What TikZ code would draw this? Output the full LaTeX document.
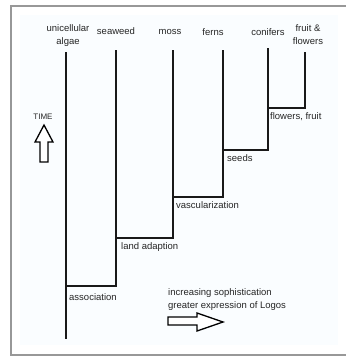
\documentclass[tikz,border=0pt]{standalone}
\usepackage{fontspec}
\setmainfont{Liberation Sans}
\begin{document}
\begin{tikzpicture}[x=1pt,y=-1pt,
  lbl/.style={font=\fontsize{9.5}{13}\selectfont, inner sep=0pt, text=black!85},
  toplbl/.style={lbl, align=center},
  branch/.style={draw=black!90, line width=1.5pt},
  blockarrow/.style={draw=black, line width=1.3pt, fill=white, line join=miter}]
\useasboundingbox (0,0) rectangle (346,357);
\fill[white] (0,0) rectangle (346,357);
\fill[white!98!cyan] (20,15) rectangle (338,345);
% frame
\draw[gray!85!black!70, line width=2pt] (346,6) -- (11,6) -- (11,355) -- (346,355);

% top labels
\node[toplbl] (algae) at (68,36) {unicellular\\algae};
\node[toplbl] (seaweed) at (116,31) {seaweed};
\node[toplbl] (moss) at (170,32) {moss};
\node[toplbl] (ferns) at (213,32) {ferns};
\node[toplbl] (conifers) at (268,32) {conifers};
\node[toplbl] (fruit) at (308,35) {fruit \&\\flowers};

% branch coordinates
\coordinate (a1) at (66,52);   \coordinate (a2) at (66,339);
\coordinate (s1) at (116,50);  \coordinate (s2) at (116,286); \coordinate (s3) at (66,286);
\coordinate (m1) at (173,50);  \coordinate (m2) at (173,238); \coordinate (m3) at (116,238);
\coordinate (f1) at (223,50);  \coordinate (f2) at (223,197); \coordinate (f3) at (173,197);
\coordinate (c1) at (268,48);  \coordinate (c2) at (268,150); \coordinate (c3) at (223,150);
\coordinate (r1) at (305,52);  \coordinate (r2) at (305,108); \coordinate (r3) at (268,108);

\draw[branch] (a1) -- (a2);
\draw[branch] (s1) -- (s2) -- (s3);
\draw[branch] (m1) -- (m2) -- (m3);
\draw[branch] (f1) -- (f2) -- (f3);
\draw[branch] (c1) -- (c2) -- (c3);
\draw[branch] (r1) -- (r2) -- (r3);

% branch labels
\node[lbl, anchor=west] (lflowers) at (270,117) {flowers, fruit};
\node[lbl, anchor=west] (lseeds) at (227,158) {seeds};
\node[lbl, anchor=west] (lvasc) at (176,205) {vascularization};
\node[lbl, anchor=west] (lland) at (121,247) {land adaption};
\node[lbl, anchor=west] (lassoc) at (69,297) {association};

% time
\node[lbl] (time) at (43,117) {\fontsize{8}{10}\selectfont TIME};
\draw[blockarrow] (44,125) -- (53,142) -- (48,142) -- (48,162) -- (40,162) -- (40,142) -- (35,142) -- cycle;

% sophistication
\node[lbl, anchor=west, align=left] (soph) at (168,299.5) {increasing sophistication\\greater expression of Logos};
\draw[blockarrow] (223,322) -- (197,331) -- (197,325) -- (168,325) -- (168,317) -- (197,317) -- (197,313) -- cycle;
\end{tikzpicture}
\end{document}
